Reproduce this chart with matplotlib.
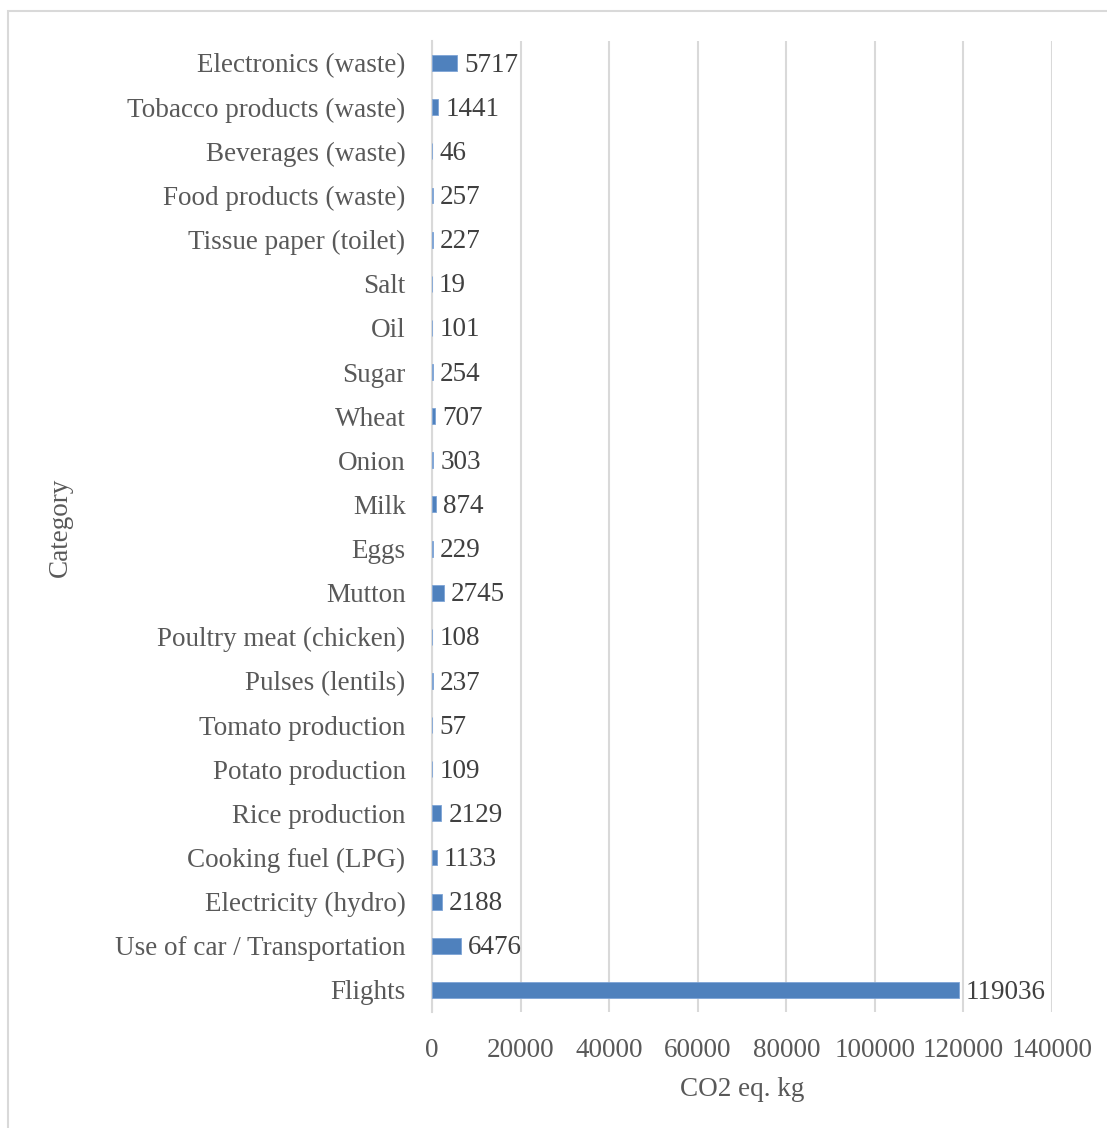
import matplotlib.pyplot as plt
from matplotlib.patches import Rectangle
import numpy as np

plt.rcParams['font.family'] = ['Liberation Serif', 'DejaVu Serif']

categories = [
    'Flights', 'Use of car / Transportation', 'Electricity (hydro)',
    'Cooking fuel (LPG)', 'Rice production', 'Potato production',
    'Tomato production', 'Pulses (lentils)', 'Poultry meat (chicken)',
    'Mutton', 'Eggs', 'Milk', 'Onion', 'Wheat', 'Sugar', 'Oil', 'Salt',
    'Tissue paper (toilet)', 'Food products (waste)', 'Beverages (waste)',
    'Tobacco products (waste)', 'Electronics (waste)',
]
values = [119036, 6476, 2188, 1133, 2129, 109, 57, 237, 108, 2745, 229,
          874, 303, 707, 254, 101, 19, 227, 257, 46, 1441, 5717]
xticks = [0, 20000, 40000, 60000, 80000, 100000, 120000, 140000]

text_color = '#595959'
grid_color = '#d9d9d9'
fs = 19.5

fig = plt.figure(figsize=(11.07, 11.28), dpi=100)
fig.patches.append(Rectangle((8 / 1107, -0.01), 1.0, 1 - 11 / 1128 + 0.01,
                             transform=fig.transFigure, fill=False,
                             edgecolor=grid_color, linewidth=1.5))

ax = fig.add_axes([432 / 1107, 1 - 1012 / 1128, 620 / 1107, 971 / 1128])
y = np.arange(len(categories))
bars = ax.barh(y, values, height=0.36, color='#4f81bd', edgecolor='#7ea4d6',
               linewidth=0.6, zorder=3)
labels = ax.bar_label(bars, labels=[str(v) for v in values], padding=5,
                      fontsize=fs, color='#404040')
# nudge value labels down so they sit level with the bars
for t in labels:
    t.xyann = (t.xyann[0], t.xyann[1] - 1.5)

ax.set_xlim(0, 140000)
ax.set_ylim(-0.5, len(categories) - 0.5)
ax.set_xticks(xticks)
ax.set_xticklabels([str(t) for t in xticks])
ax.set_yticks(y)
ax.set_yticklabels(categories)
ax.tick_params(axis='both', length=0, labelsize=fs, labelcolor=text_color)
ax.tick_params(axis='y', pad=19)
ax.tick_params(axis='x', pad=19)

ax.grid(axis='x', color=grid_color, linewidth=1.5, zorder=0)
for side in ['top', 'right', 'bottom']:
    ax.spines[side].set_visible(False)
ax.spines['left'].set_color(grid_color)
ax.spines['left'].set_linewidth(1.5)

ax.set_xlabel('CO2 eq. kg', fontsize=fs, color=text_color, labelpad=10)
fig.text(60 / 1107, 1 - 527 / 1128, 'Category', rotation=90, fontsize=fs,
         color=text_color, ha='center', va='center')

fig.savefig('out.png', dpi=100)
